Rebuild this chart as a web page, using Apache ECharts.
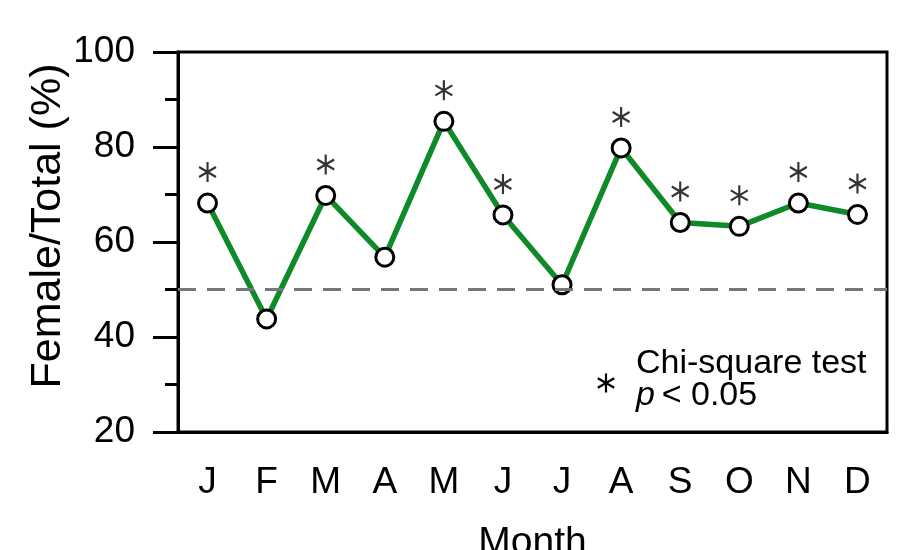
<!DOCTYPE html>
<html>
<head>
<meta charset="utf-8">
<script src="https://cdn.jsdelivr.net/npm/echarts@6/dist/echarts.min.js"></script>
<style>
html,body{margin:0;padding:0;background:#fff;}
#chart{width:901px;height:550px;}
</style>
</head>
<body>
<div id="chart"></div>
<script>
var months = ['J','F','M','A','M','J','J','A','S','O','N','D'];
var femaleRatio = [68.2, 43.8, 69.8, 56.8, 85.4, 65.7, 51.0, 79.8, 64.1, 63.3, 68.2, 65.8];
var significant = [true, false, true, false, true, true, false, true, true, true, true, true];
var parityLine = 50;
var yTicks = [20, 40, 60, 80, 100];
var yTitle = 'Female/Total (%)';
var xTitle = 'Month';

var FONT = 'Liberation Sans, Arial, Helvetica, sans-serif';
var ASTER = 'path://M-1.1,-10L1.1,-10L1.1,10L-1.1,10Z M8.11,-5.95L9.21,-4.05L-8.11,5.95L-9.21,4.05Z M-9.21,-4.05L-8.11,-5.95L9.21,4.05L8.11,5.95Z';

var starData = femaleRatio.map(function(v, i){ return significant[i] ? v : '-'; });

// legend asterisk built from three thin bars
function bar(cx, cy, angleDeg, halfLen, halfW) {
  var a = angleDeg * Math.PI / 180, c = Math.cos(a), s = Math.sin(a);
  var pts = [[-halfW,-halfLen],[halfW,-halfLen],[halfW,halfLen],[-halfW,halfLen]];
  return {
    type: 'polygon',
    shape: {points: pts.map(function(p){ return [cx + p[0]*c - p[1]*s, cy + p[0]*s + p[1]*c]; })},
    style: {fill: '#000'}
  };
}
var legendStar = [bar(606, 383, 0, 9.5, 1.1), bar(606, 383, 60, 9.5, 1.1), bar(606, 383, -60, 9.5, 1.1)];

var chart = echarts.init(document.getElementById('chart'));
chart.setOption({
  animation: false,
  backgroundColor: '#fff',
  grid: {left: 178, right: 14, top: 52, bottom: 118, containLabel: false, outerBoundsMode: 'none',
         show: true, borderColor: '#000', borderWidth: 3, backgroundColor: 'transparent'},
  xAxis: {
    type: 'category',
    data: months,
    boundaryGap: true,
    name: xTitle,
    nameLocation: 'middle',
    nameGap: 92,
    nameTextStyle: {fontFamily: FONT, fontSize: 39, color: '#000'},
    axisLine: {lineStyle: {color: '#000', width: 3}},
    axisTick: {alignWithLabel: true, length: 24, lineStyle: {color: '#000', width: 3}},
    axisLabel: {fontFamily: FONT, fontSize: 37, color: '#000', margin: 32},
    splitLine: {show: false}
  },
  yAxis: {
    type: 'value',
    min: yTicks[0],
    max: yTicks[yTicks.length - 1],
    interval: 20,
    axisLine: {show: true, lineStyle: {color: '#000', width: 3}},
    axisTick: {show: true, length: 25, lineStyle: {color: '#000', width: 3}},
    minorTick: {show: true, splitNumber: 2, length: 13, lineStyle: {color: '#000', width: 3}},
    axisLabel: {fontFamily: FONT, fontSize: 37, color: '#000', margin: 43},
    splitLine: {show: false},
    minorSplitLine: {show: false}
  },
  series: [
    {
      type: 'line',
      data: femaleRatio,
      symbol: 'circle',
      symbolSize: 18,
      lineStyle: {color: '#0f8a28', width: 5.5},
      itemStyle: {color: '#fff', borderColor: '#000', borderWidth: 3},
      z: 3,
      markLine: {
        silent: true,
        symbol: 'none',
        label: {show: false},
        lineStyle: {color: '#777', width: 3, type: [18, 11]},
        data: [{yAxis: parityLine}]
      }
    },
    {
      type: 'scatter',
      data: starData,
      symbol: ASTER,
      symbolSize: [18, 20],
      symbolOffset: [0, -31],
      itemStyle: {color: '#000'},
      z: 4
    }
  ],
  graphic: legendStar.concat([
    {
      type: 'text',
      x: 48,
      y: 226,
      rotation: Math.PI / 2,
      style: {text: yTitle, fontFamily: FONT, fontSize: 43, fill: '#000', align: 'center', verticalAlign: 'middle'}
    },
    {
      type: 'text',
      left: 636,
      top: 347,
      style: {
        text: '{a|Chi-square test}\n{i|p}{a|\u2009< 0.05}',
        rich: {
          a: {fontFamily: FONT, fontSize: 34, lineHeight: 32, fill: '#000'},
          i: {fontFamily: FONT, fontSize: 34, lineHeight: 32, fontStyle: 'italic', fill: '#000'}
        }
      }
    }
  ])
});
</script>
</body>
</html>
